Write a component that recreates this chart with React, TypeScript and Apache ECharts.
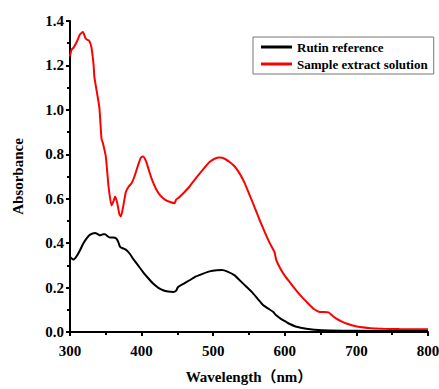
import React, { useEffect, useRef } from "react";
import * as echarts from "echarts";

const wavelengthRed = [300, 302, 305, 310, 314, 318, 322, 327, 330, 333, 334, 337, 341, 344, 346, 350, 354, 358, 361, 363, 366, 369, 371, 374, 378, 382, 386, 390, 395, 399, 402, 406, 410, 414, 420, 426, 433, 440, 446, 448, 453, 460, 467, 474, 481, 488, 495, 502, 509, 516, 523, 530, 537, 544, 551, 558, 565, 572, 579, 584, 586, 588, 593, 598, 605, 612, 619, 626, 633, 640, 645, 649, 655, 661, 666, 672, 679, 686, 695, 705, 720, 737, 760, 780, 800];
const absorbanceRed = [1.24, 1.27, 1.28, 1.31, 1.34, 1.35, 1.32, 1.31, 1.28, 1.2, 1.15, 1.09, 1.01, 0.87, 0.85, 0.79, 0.65, 0.57, 0.59, 0.61, 0.58, 0.53, 0.52, 0.56, 0.63, 0.655, 0.67, 0.7, 0.75, 0.785, 0.79, 0.77, 0.73, 0.69, 0.645, 0.615, 0.595, 0.585, 0.58, 0.595, 0.608, 0.63, 0.655, 0.685, 0.713, 0.74, 0.765, 0.78, 0.785, 0.78, 0.765, 0.745, 0.713, 0.67, 0.615, 0.56, 0.503, 0.45, 0.4, 0.37, 0.355, 0.325, 0.29, 0.263, 0.232, 0.203, 0.175, 0.15, 0.127, 0.105, 0.095, 0.09, 0.09, 0.088, 0.075, 0.06, 0.048, 0.038, 0.029, 0.022, 0.017, 0.015, 0.013, 0.012, 0.012];

const wavelengthBlack = [300, 305, 310, 314, 318, 323, 328, 335, 339, 342, 346, 349, 353, 356, 360, 365, 368, 370, 375, 379, 384, 388, 395, 402, 409, 416, 423, 430, 437, 444, 448, 451, 459, 467, 476, 486, 495, 505, 512, 520, 530, 537, 546, 556, 563, 570, 577, 584, 588, 595, 602, 607, 615, 630, 653, 680, 720, 800];
const absorbanceBlack = [0.338, 0.326, 0.345, 0.368, 0.395, 0.42, 0.438, 0.446, 0.44, 0.435, 0.44, 0.44, 0.43, 0.425, 0.425, 0.42, 0.4, 0.383, 0.375, 0.368, 0.35, 0.33, 0.3, 0.27, 0.243, 0.218, 0.2, 0.188, 0.182, 0.18, 0.185, 0.203, 0.218, 0.233, 0.25, 0.263, 0.273, 0.278, 0.279, 0.272, 0.255, 0.233, 0.205, 0.173, 0.146, 0.12, 0.105, 0.09, 0.075, 0.058, 0.045, 0.036, 0.025, 0.015, 0.008, 0.006, 0.005, 0.004];

const seriesNames = ["Rutin reference", "Sample extract solution"];
const xTitle = "Wavelength（nm）";
const yTitle = "Absorbance";

const FONT = "'Liberation Serif', 'Times New Roman', 'Noto Sans CJK SC', serif";

export default function App() {
  const ref = useRef<HTMLDivElement>(null);
  useEffect(() => {
    if (!ref.current) return;
    const chart = echarts.init(ref.current, null, { renderer: "svg" });
    const pair = (xs: number[], ys: number[]) => xs.map((x, i) => [x, ys[i]]);
    chart.setOption({
      animation: false,
      backgroundColor: "#ffffff",
      grid: { left: 70, right: 11, top: 21, bottom: 57, outerBoundsMode: "none", containLabel: false },
      legend: {
        orient: "vertical",
        left: 253,
        top: 37,
        padding: [3, 6, 3, 8],
        borderColor: "#777",
        borderWidth: 1,
        itemWidth: 31,
        itemHeight: 3,
        itemGap: 3,
        icon: "rect",
        textStyle: { fontFamily: FONT, fontWeight: "bold", fontSize: 13, color: "#000", lineHeight: 14 },
        data: seriesNames,
      },
      xAxis: {
        type: "value",
        min: 300,
        max: 800,
        interval: 100,
        offset: 3,
        name: xTitle,
        nameLocation: "middle",
        nameGap: 34,
        nameTextStyle: { fontFamily: FONT, fontWeight: "bold", fontSize: 15, color: "#000" },
        axisLine: { lineStyle: { color: "#000", width: 2 } },
        axisTick: { length: 4, lineStyle: { color: "#000", width: 2 } },
        minorTick: { show: true, splitNumber: 2, length: 3, lineStyle: { color: "#000", width: 2 } },
        axisLabel: { fontFamily: FONT, fontWeight: "bold", fontSize: 15, color: "#000", margin: 8 },
        splitLine: { show: false },
      },
      yAxis: {
        type: "value",
        min: 0,
        max: 1.4,
        interval: 0.2,
        name: yTitle,
        nameLocation: "middle",
        nameGap: 45,
        nameTextStyle: { fontFamily: FONT, fontWeight: "bold", fontSize: 15, color: "#000" },
        axisLine: { show: true, lineStyle: { color: "#000", width: 2 } },
        axisTick: { show: true, length: 4, lineStyle: { color: "#000", width: 2 } },
        minorTick: { show: true, splitNumber: 2, length: 3, lineStyle: { color: "#000", width: 2 } },
        axisLabel: {
          fontFamily: FONT,
          fontWeight: "bold",
          fontSize: 15,
          color: "#000",
          margin: 6,
          formatter: (v: number) => v.toFixed(1),
        },
        splitLine: { show: false },
      },
      graphic: [
        { type: "line", shape: { x1: 70, y1: 331, x2: 70, y2: 336 }, style: { stroke: "#000", lineWidth: 2 } },
      ],
      series: [
        {
          name: seriesNames[0],
          type: "line",
          data: pair(wavelengthBlack, absorbanceBlack),
          showSymbol: false,
          smooth: 0.2,
          lineStyle: { color: "#000", width: 2 },
          itemStyle: { color: "#000" },
          z: 3,
        },
        {
          name: seriesNames[1],
          type: "line",
          data: pair(wavelengthRed, absorbanceRed),
          showSymbol: false,
          smooth: 0.2,
          lineStyle: { color: "#ff0000", width: 2 },
          itemStyle: { color: "#ff0000" },
          z: 2,
        },
      ],
    });
    return () => chart.dispose();
  }, []);
  return <div ref={ref} style={{ position: "fixed", left: 0, top: 0, width: 439, height: 389 }} />;
}
